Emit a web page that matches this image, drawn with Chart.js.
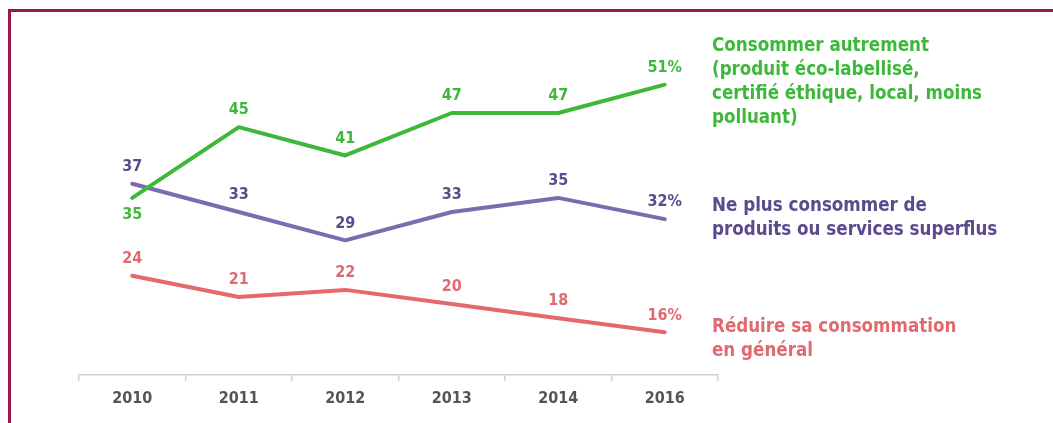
<!DOCTYPE html>
<html>
<head>
<meta charset="utf-8">
<script src="https://cdn.jsdelivr.net/npm/chart.js@4/dist/chart.umd.min.js"></script>
<style>
  html, body { margin:0; padding:0; background:#fff; }
  #wrap { position:relative; width:1053px; height:423px; overflow:hidden; }
  #frame { position:absolute; left:8px; top:9px; right:-10px; bottom:-10px;
           border-top:3px solid #961a50; border-left:3px solid #961a50; }
  canvas { position:absolute; left:0; top:0; }
  .leg { position:absolute; left:712px; font-family:"DejaVu Sans Condensed","DejaVu Sans",sans-serif;
         font-weight:bold; font-size:18.6px; line-height:24px; white-space:nowrap; }
</style>
</head>
<body>
<div id="wrap">
  <div id="frame"></div>
  <canvas id="c" width="1053" height="423"></canvas>
  <div class="leg" id="l0" style="top:33px;color:#3db83a">Consommer autrement<br>(produit éco-labellisé,<br>certifié éthique, local, moins<br>polluant)</div>
  <div class="leg" id="l1" style="top:193px;color:#5c4a8c">Ne plus consommer de<br>produits ou services superflus</div>
  <div class="leg" id="l2" style="top:314px;color:#e06a6e">Réduire sa consommation<br>en général</div>
</div>
<script>
const years = ["2010", "2011", "2012", "2013", "2014", "2016"];
const autrement = [35, 45, 41, 47, 47, 51];
const superflus = [37, 33, 29, 33, 35, 32];
const reduire = [24, 21, 22, 20, 18, 16];
const seriesNames = ["Consommer autrement", "Ne plus consommer de produits ou services superflus", "Réduire sa consommation en général"];

const lineColors = ["#3db83a", "#7d6bb0", "#e4686c"];
const textColors = ["#3db83a", "#5c4a8c", "#e06a6e"];

const labelPlugin = {
  id: 'valueLabels',
  afterDatasetsDraw(chart) {
    const ctx = chart.ctx;
    ctx.save();
    ctx.font = 'bold 16px "DejaVu Sans Condensed", "DejaVu Sans", sans-serif';
    ctx.textAlign = 'center';
    ctx.textBaseline = 'middle';
    chart.data.datasets.forEach((ds, di) => {
      const meta = chart.getDatasetMeta(di);
      meta.data.forEach((pt, i) => {
        const last = i === ds.data.length - 1;
        const txt = ds.data[i] + (last ? '%' : '');
        const below = (di === 0 && i === 0);
        ctx.fillStyle = textColors[di];
        ctx.fillText(txt, pt.x, below ? pt.y + 17 : pt.y - 17);
      });
    });
    ctx.restore();
  }
};

new Chart(document.getElementById('c'), {
  type: 'line',
  data: {
    labels: years,
    datasets: [
      { label: seriesNames[0], data: autrement, borderColor: lineColors[0] },
      { label: seriesNames[1], data: superflus, borderColor: lineColors[1] },
      { label: seriesNames[2], data: reduire, borderColor: lineColors[2] }
    ].map(d => Object.assign(d, { borderWidth: 4, pointRadius: 0, tension: 0, fill: false, borderCapStyle: 'round', borderJoinStyle: 'round' }))
  },
  options: {
    responsive: false,
    animation: false,
    layout: { padding: { left: 79, right: 335, top: 21, bottom: 7 } },
    plugins: { legend: { display: false }, tooltip: { enabled: false } },
    scales: {
      x: {
        offset: true,
        grid: { offset: true, drawOnChartArea: false, tickLength: 6, color: '#cfcfcf', lineWidth: 1.5 },
        border: { color: '#cfcfcf', width: 1.5 },
        ticks: { color: '#555555', padding: 8, font: { family: '"DejaVu Sans Condensed", "DejaVu Sans", sans-serif', weight: 'bold', size: 16 } }
      },
      y: { display: false, min: 10, max: 60 }
    }
  },
  plugins: [labelPlugin]
});
</script>
</body>
</html>
